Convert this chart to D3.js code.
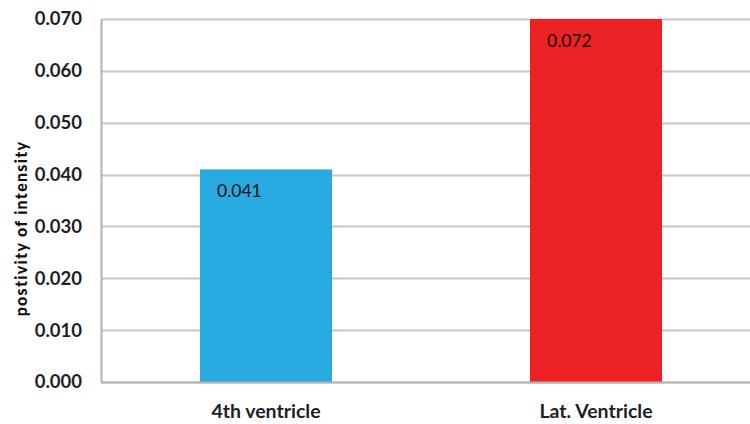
<!DOCTYPE html>
<html>
<head>
<meta charset="utf-8">
<script src="https://cdn.jsdelivr.net/npm/d3@7/dist/d3.min.js"></script>
<style>
  html, body { margin: 0; padding: 0; background: #fff; }
  svg { display: block; }
</style>
</head>
<body>
<svg id="chart" width="750" height="424"></svg>
<script>
// Categories and measured values
const categories = ["4th ventricle", "Lat. Ventricle"];
const values = [0.041, 0.072];
const valueLabels = ["0.041", "0.072"];
const barColors = ["#29ABE2", "#ED2224"];
const yTicks = [0, 0.01, 0.02, 0.03, 0.04, 0.05, 0.06, 0.07];
const yTitle = "postivity of intensity";

const FONT = "Lato, 'Open Sans', 'Liberation Sans', sans-serif";
const svg = d3.select("#chart");
const plot = { left: 101, right: 761, top: 19, bottom: 382 };

const x = d3.scaleBand()
  .domain(categories)
  .range([plot.left, plot.right])
  .paddingInner(0.6)
  .paddingOuter(0.3);

const y = d3.scaleLinear()
  .domain([0, 0.07])
  .range([plot.bottom, plot.top]);

// Horizontal gridlines
svg.append("g")
  .selectAll("line")
  .data(yTicks)
  .join("line")
  .attr("x1", plot.left)
  .attr("x2", plot.right)
  .attr("y1", d => Math.round(y(d)) + 0.5)
  .attr("y2", d => Math.round(y(d)) + 0.5)
  .attr("stroke", "#C6C6C6")
  .attr("stroke-width", 2);

// Clip bars to the plotting area
svg.append("clipPath").attr("id", "plotClip")
  .append("rect")
  .attr("x", plot.left).attr("y", plot.top)
  .attr("width", plot.right - plot.left)
  .attr("height", plot.bottom - plot.top);

const bars = svg.append("g").attr("clip-path", "url(#plotClip)");
bars.selectAll("rect")
  .data(values)
  .join("rect")
  .attr("x", (d, i) => x(categories[i]))
  .attr("width", x.bandwidth())
  .attr("y", d => y(d))
  .attr("height", d => y(0) - y(d))
  .attr("fill", (d, i) => barColors[i]);

// Value labels inside the bar tops
svg.append("g")
  .selectAll("text")
  .data(values)
  .join("text")
  .attr("x", (d, i) => x(categories[i]) + 17)
  .attr("y", d => Math.max(y(d), plot.top) + 28)
  .attr("font-family", FONT)
  .attr("font-size", 17.5)
  .attr("fill", "#111")
  .text((d, i) => valueLabels[i]);

// Left axis line and bottom axis line
svg.append("line")
  .attr("x1", plot.left + 0.5).attr("x2", plot.left + 0.5)
  .attr("y1", plot.top).attr("y2", plot.bottom + 1)
  .attr("stroke", "#B4B4B4").attr("stroke-width", 2);
svg.append("line")
  .attr("x1", plot.left).attr("x2", plot.right)
  .attr("y1", plot.bottom + 0.5).attr("y2", plot.bottom + 0.5)
  .attr("stroke", "#B4B4B4").attr("stroke-width", 2);

// Y tick labels via d3 axis
const yAxis = svg.append("g")
  .attr("transform", `translate(${plot.left - 19},0)`)
  .call(d3.axisLeft(y).tickValues(yTicks).tickFormat(d3.format(".3f")).tickSize(0).tickPadding(0));
yAxis.select(".domain").remove();
yAxis.selectAll("text")
  .attr("font-family", FONT)
  .attr("font-size", 18.5)
  .attr("font-weight", "bold")
  .attr("fill", "#1E1E28");

// X category labels via d3 axis
const xAxis = svg.append("g")
  .attr("transform", `translate(0,${plot.bottom})`)
  .call(d3.axisBottom(x).tickSize(0).tickPadding(22));
xAxis.select(".domain").remove();
xAxis.selectAll("text")
  .attr("font-family", FONT)
  .attr("font-size", 19.5)
  .attr("font-weight", "bold")
  .attr("fill", "#1E1E28");

// Y axis title
svg.append("text")
  .attr("transform", `translate(27,${(plot.top + plot.bottom) / 2 + 28}) rotate(-90)`)
  .attr("text-anchor", "middle")
  .attr("font-family", FONT)
  .attr("font-size", 16)
  .attr("font-weight", 900)
  .attr("letter-spacing", 1.3)
  .attr("fill", "#111")
  .text(yTitle);
</script>
</body>
</html>
